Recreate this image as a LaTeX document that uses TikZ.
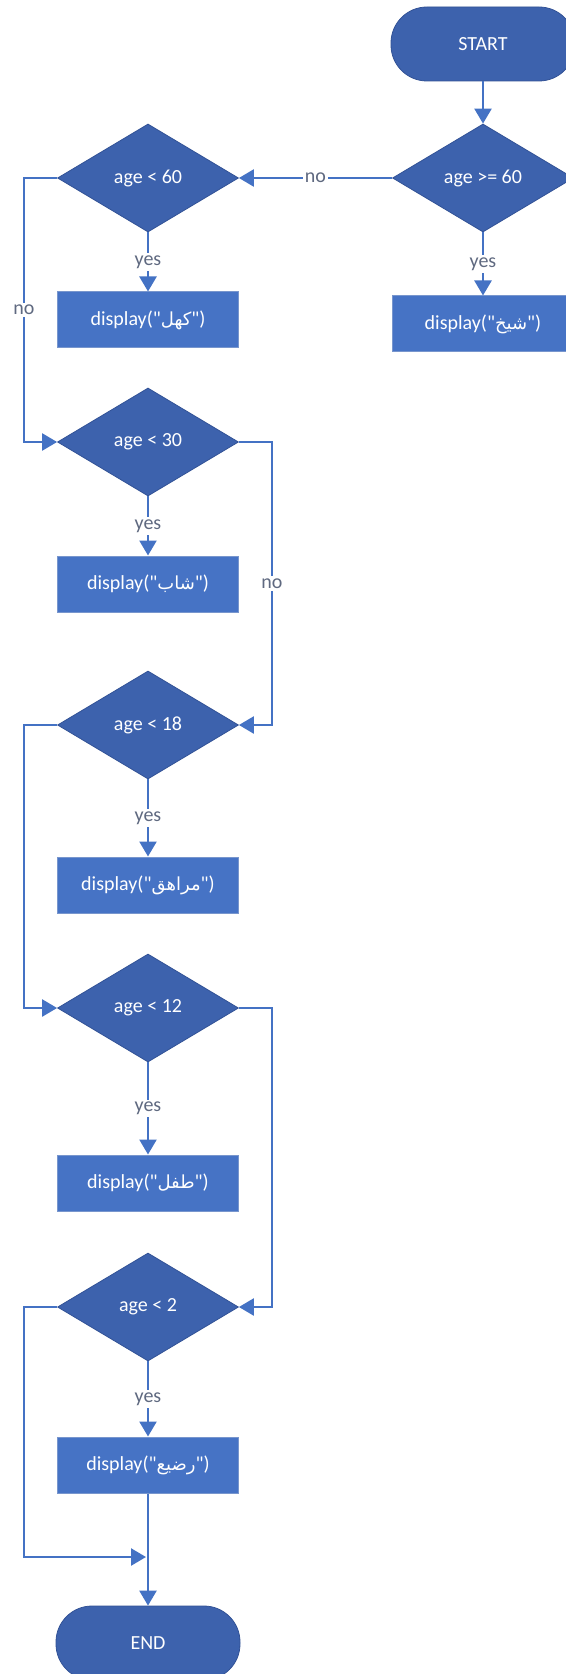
\documentclass[tikz,border=0pt]{standalone}
\usepackage{fontspec}
\setmainfont{Carlito}[Ligatures=TeXOff]
\newfontfamily\arabicfont[Script=Arabic,Scale=0.9]{DejaVu Sans}
\TeXXeTstate=1
\usetikzlibrary{shapes.geometric,arrows.meta}

\definecolor{linkblue}{RGB}{68,114,196}
\definecolor{boxblue}{RGB}{70,115,197}
\definecolor{boxedge}{RGB}{120,150,205}
\definecolor{deepblue}{RGB}{61,98,173}
\definecolor{deepedge}{RGB}{50,82,150}
\definecolor{labelgray}{RGB}{95,105,128}

% Arabic word set right to left
\newcommand{\arword}[1]{{\arabicfont\beginR #1\endR}}

\begin{document}
\begin{tikzpicture}[x=0.5pt,y=-0.5pt,
  font=\fontsize{10pt}{12pt}\selectfont,
  terminal/.style={rectangle, rounded corners=18pt, fill=deepblue, draw=deepedge,
    line width=0.4pt, minimum width=92pt, minimum height=37pt, inner sep=0pt, text=white},
  decision/.style={diamond, aspect=1.67, fill=deepblue, draw=deepedge, line width=0.4pt,
    minimum width=90.5pt, minimum height=54pt, inner sep=0pt, text=white},
  process/.style={rectangle, fill=boxblue, draw=boxedge, line width=0.5pt,
    minimum width=90.5pt, minimum height=28pt, inner sep=0pt, text=white},
  link/.style={draw=linkblue, line width=1.2pt, -{Triangle[width=8.5pt,length=7.5pt]}},
  tag/.style={fill=white, text=labelgray, inner sep=1.2pt}
]
\clip (0,0) rectangle (566,1674);
\fill[white] (0,0) rectangle (566,1674);

% lanes for the side connectors
\coordinate (laneL) at (24,0);
\coordinate (laneR) at (272,0);
\coordinate (merge) at (148,1557);

% right column
\node[terminal] (start) at (483,44) {START};
\node[decision] (d1r) at (483,178) {age >= 60};
\node[process] (b1r) at (483,324) {display("\arword{شيخ}")};

% left column
\node[decision] (d1) at (148,178) {age < 60};
\node[process]  (b1) at (148,320) {display("\arword{كهل}")};
\node[decision] (d2) at (148,442) {age < 30};
\node[process]  (b2) at (148,584) {display("\arword{شاب}")};
\node[decision] (d3) at (148,725) {age < 18};
\node[process]  (b3) at (148,885) {display("\arword{مراهق}")};
\node[decision] (d4) at (148,1008) {age < 12};
\node[process]  (b4) at (148,1183) {display("\arword{طفل}")};
\node[decision] (d5) at (148,1307) {age < 2};
\node[process]  (b5) at (148,1465) {display("\arword{رضيع}")};
\node[terminal] (end) at (148,1643) {END};

% connectors
\draw[link] (start.south) -- (d1r.north);
\draw[link] (d1r.west) -- node[tag]{no} (d1.east);
\draw[link] (d1r.south) -- node[tag]{yes} (b1r.north);

\draw[link] (d1.south) -- node[tag]{yes} (b1.north);
\draw[link] (d1.west) -- (d1.west -| laneL) |- node[tag,pos=0.25]{no} (d2.west);

\draw[link] (d2.south) -- node[tag]{yes} (b2.north);
\draw[link] (d2.east) -- (d2.east -| laneR) |- node[tag,pos=0.25]{no} (d3.east);

\draw[link] (d3.south) -- node[tag]{yes} (b3.north);
\draw[link] (d3.west) -- (d3.west -| laneL) |- (d4.west);

\draw[link] (d4.south) -- node[tag]{yes} (b4.north);
\draw[link] (d4.east) -- (d4.east -| laneR) |- (d5.east);

\draw[link] (d5.south) -- node[tag]{yes} (b5.north);
\draw[link, shorten >=1pt] (d5.west) -- (d5.west -| laneL) |- (merge);
\draw[link] (b5.south) -- (end.north);
\end{tikzpicture}
\end{document}
